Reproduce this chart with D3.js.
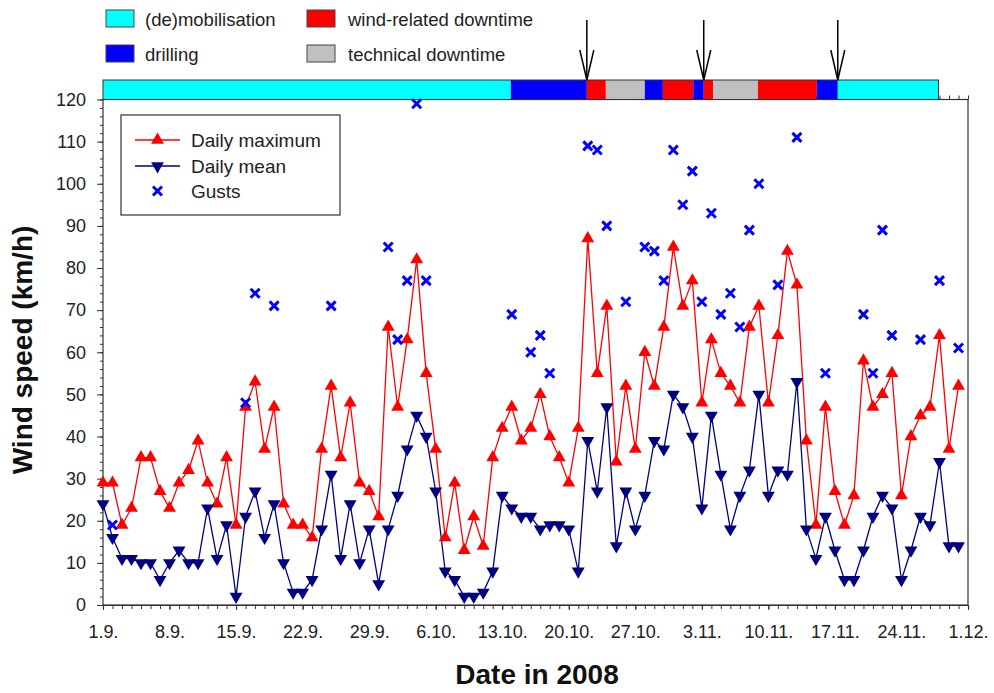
<!DOCTYPE html>
<html><head><meta charset="utf-8">
<script src="https://cdn.jsdelivr.net/npm/d3@7"></script>
<style>body{margin:0;background:#fff}svg{display:block;font-family:"Liberation Sans",Arial,sans-serif}</style>
</head><body><svg id="c" width="994" height="693"></svg>
<script>
// ---- data ----
const dailyMax = [29,29,19,23,35,35,27,23,29,32,39,29,24,35,19,47,53,37,47,24,19,19,16,37,52,35,48,29,27,21,66,47,63,82,55,37,16,29,13,21,14,35,42,47,39,42,50,40,35,29,42,87,55,71,34,52,37,60,52,66,85,71,77,48,63,55,52,48,66,71,48,64,84,76,39,19,47,27,19,26,58,47,50,55,26,40,45,47,64,37,52];
const dailyMean = [24,16,11,11,10,10,6,10,13,10,10,23,11,19,2,21,27,16,24,10,3,3,6,18,31,11,24,10,18,5,18,26,37,45,40,27,8,6,2,2,3,8,26,23,21,21,18,19,19,18,8,39,27,47,14,27,18,26,39,37,50,47,40,23,45,31,18,26,32,50,26,32,31,53,18,11,21,13,6,6,13,21,26,23,6,13,21,19,34,14,14];
const gustDays = [1,15,16,18,24,30,31,32,33,34,43,45,46,47,51,52,53,55,57,58,59,60,61,62,63,64,65,66,67,68,69,71,73,76,80,81,82,83,86,88,90];
const gustValues = [19,48,74,71,71,85,63,77,119,77,69,60,64,55,109,108,90,72,85,84,77,108,95,103,72,93,69,74,66,89,100,76,111,55,69,55,89,64,63,77,61];
const xTickDays = [0,7,14,21,28,35,42,49,56,63,70,77,84,91];
const xTickLabels = ["1.9.","8.9.","15.9.","22.9.","29.9.","6.10.","13.10.","20.10.","27.10.","3.11.","10.11.","17.11.","24.11.","1.12."];
const phaseStart = [0,42.9,50.9,52.9,57,58.9,62.1,63.2,64.2,68.9,75.1,77.3];
const phaseEnd   = [42.9,50.9,52.9,57,58.9,62.1,63.2,64.2,68.9,75.1,77.3,87.9];
const phaseType  = ["mob","drill","wind","tech","drill","wind","drill","wind","tech","wind","drill","mob"];
const arrowDays = [50.9,63.2,77.3];
const phaseNames = {mob:"(de)mobilisation",drill:"drilling",wind:"wind-related downtime",tech:"technical downtime"};
const phaseColors = {mob:"#00ffff",drill:"#0000ff",wind:"#ff0000",tech:"#c0c0c0"};

// ---- layout ----
const svg = d3.select("#c");
const L = 103, R = 968, T = 99.5, B = 605;
const x = d3.scaleLinear().domain([0,91]).range([L,R]);
const y = d3.scaleLinear().domain([0,120]).range([B,T]);

// frame
svg.append("rect").attr("x",L).attr("y",T).attr("width",R-L).attr("height",B-T)
  .attr("fill","none").attr("stroke","#333").attr("stroke-width",1.2);

// top axis ticks (mostly hidden by bar)
const topAx = svg.append("g").attr("transform",`translate(0,${T})`)
  .call(d3.axisTop(x).tickValues(d3.range(0,92)).tickSize(4).tickFormat(""));
topAx.select(".domain").remove();
topAx.selectAll("line").attr("stroke","#333");

// bottom axis
const xMinor = svg.append("g").attr("transform",`translate(0,${B})`)
  .call(d3.axisBottom(x).tickValues(d3.range(0,92)).tickSize(4).tickFormat(""));
xMinor.selectAll("line").attr("stroke","#333");
xMinor.select(".domain").attr("stroke","#333").attr("stroke-width",1.2);
const xMaj = svg.append("g").attr("transform",`translate(0,${B})`)
  .call(d3.axisBottom(x).tickValues(xTickDays).tickSize(5).tickFormat((d,i)=>xTickLabels[i]));
xMaj.select(".domain").remove();
xMaj.selectAll("line").attr("stroke","#333");
xMaj.selectAll("text").attr("y",33).attr("dy",null).attr("font-size",18)
  .attr("fill","#222").attr("font-family","Liberation Sans, Arial, sans-serif");

// left axis
const yMinor = svg.append("g").attr("transform",`translate(${L},0)`)
  .call(d3.axisLeft(y).tickValues(d3.range(0,121,2)).tickSize(3).tickFormat(""));
yMinor.selectAll("line").attr("stroke","#333");
yMinor.select(".domain").remove();
const yMaj = svg.append("g").attr("transform",`translate(${L},0)`)
  .call(d3.axisLeft(y).tickValues(d3.range(0,121,10)).tickSize(6));
yMaj.select(".domain").remove();
yMaj.selectAll("line").attr("stroke","#333");
yMaj.selectAll("text").attr("x",-17).attr("font-size",18).attr("fill","#222")
  .attr("font-family","Liberation Sans, Arial, sans-serif");

// activity bar
svg.append("g").selectAll("rect").data(phaseStart).join("rect")
  .attr("x",(d)=>x(d)).attr("y",80).attr("width",(d,i)=>x(phaseEnd[i])-x(d)).attr("height",T-80)
  .attr("fill",(d,i)=>phaseColors[phaseType[i]]);
svg.append("rect").attr("x",x(0)).attr("y",80).attr("width",x(87.9)-x(0)).attr("height",T-80)
  .attr("fill","none").attr("stroke","#333").attr("stroke-width",1);

// arrows
const ag = svg.append("g").attr("stroke","#000").attr("stroke-width",1.5).attr("fill","none");
arrowDays.forEach(d=>{
  const ax = x(d);
  ag.append("line").attr("x1",ax).attr("x2",ax).attr("y1",20).attr("y2",80);
  ag.append("path").attr("d",`M${ax-7},50L${ax},80L${ax+7},50`);
});

// top legend
const legItems = [["mob",106,10,145],["drill",106,45,145],["wind",307,10,348],["tech",307,45,348]];
legItems.forEach(([k,sx,sy,tx])=>{
  svg.append("rect").attr("x",sx).attr("y",sy).attr("width",28).attr("height",17)
    .attr("fill",phaseColors[k]).attr("stroke","#444").attr("stroke-width",1);
  svg.append("text").attr("x",tx).attr("y",sy+16).attr("font-size",18.5).attr("fill","#222").text(phaseNames[k]);
});

// series
const line = d3.line().x((d,i)=>x(i)).y(d=>y(d));
svg.append("path").datum(dailyMax).attr("d",line).attr("fill","none").attr("stroke","#ff0000").attr("stroke-width",1.3);
svg.append("path").datum(dailyMean).attr("d",line).attr("fill","none").attr("stroke","#000080").attr("stroke-width",1.3);

const triUp = d3.symbol().type(d3.symbolTriangle).size(72);
svg.append("g").selectAll("path").data(dailyMax).join("path")
  .attr("d",triUp).attr("transform",(d,i)=>`translate(${x(i)},${y(d)})`).attr("fill","#ff0000");
svg.append("g").selectAll("path").data(dailyMean).join("path")
  .attr("d",triUp).attr("transform",(d,i)=>`translate(${x(i)},${y(d)}) rotate(180)`).attr("fill","#000080");

function cross(g, cx, cy){
  g.append("path").attr("d",`M${cx-4.5},${cy-4.5}L${cx+4.5},${cy+4.5}M${cx-4.5},${cy+4.5}L${cx+4.5},${cy-4.5}`)
   .attr("stroke","#0000ff").attr("stroke-width",3).attr("fill","none");
}
const gg = svg.append("g");
gustDays.forEach((d,i)=>cross(gg, x(d), y(gustValues[i])));

// plot legend
svg.append("rect").attr("x",121).attr("y",115).attr("width",219).attr("height",100)
  .attr("fill","#fff").attr("stroke","#333").attr("stroke-width",1.2);
const lg = svg.append("g");
lg.append("line").attr("x1",135).attr("x2",180).attr("y1",140).attr("y2",140).attr("stroke","#ff0000").attr("stroke-width",1.3);
lg.append("path").attr("d",triUp).attr("transform","translate(157.5,140)").attr("fill","#ff0000");
lg.append("line").attr("x1",135).attr("x2",180).attr("y1",166).attr("y2",166).attr("stroke","#000080").attr("stroke-width",1.3);
lg.append("path").attr("d",triUp).attr("transform","translate(157.5,166) rotate(180)").attr("fill","#000080");
cross(lg,157.5,191);
[["Daily maximum",140],["Daily mean",166],["Gusts",191]].forEach(([t,ty])=>{
  lg.append("text").attr("x",191).attr("y",ty+7).attr("font-size",19).attr("fill","#222").text(t);
});

// titles
svg.append("text").attr("transform","translate(32,350) rotate(-90)").attr("text-anchor","middle")
  .attr("font-size",28).attr("font-weight","bold").attr("fill","#111").text("Wind speed (km/h)");
svg.append("text").attr("x",537).attr("y",684).attr("text-anchor","middle")
  .attr("font-size",28).attr("font-weight","bold").attr("fill","#111").text("Date in 2008");
</script></body></html>
